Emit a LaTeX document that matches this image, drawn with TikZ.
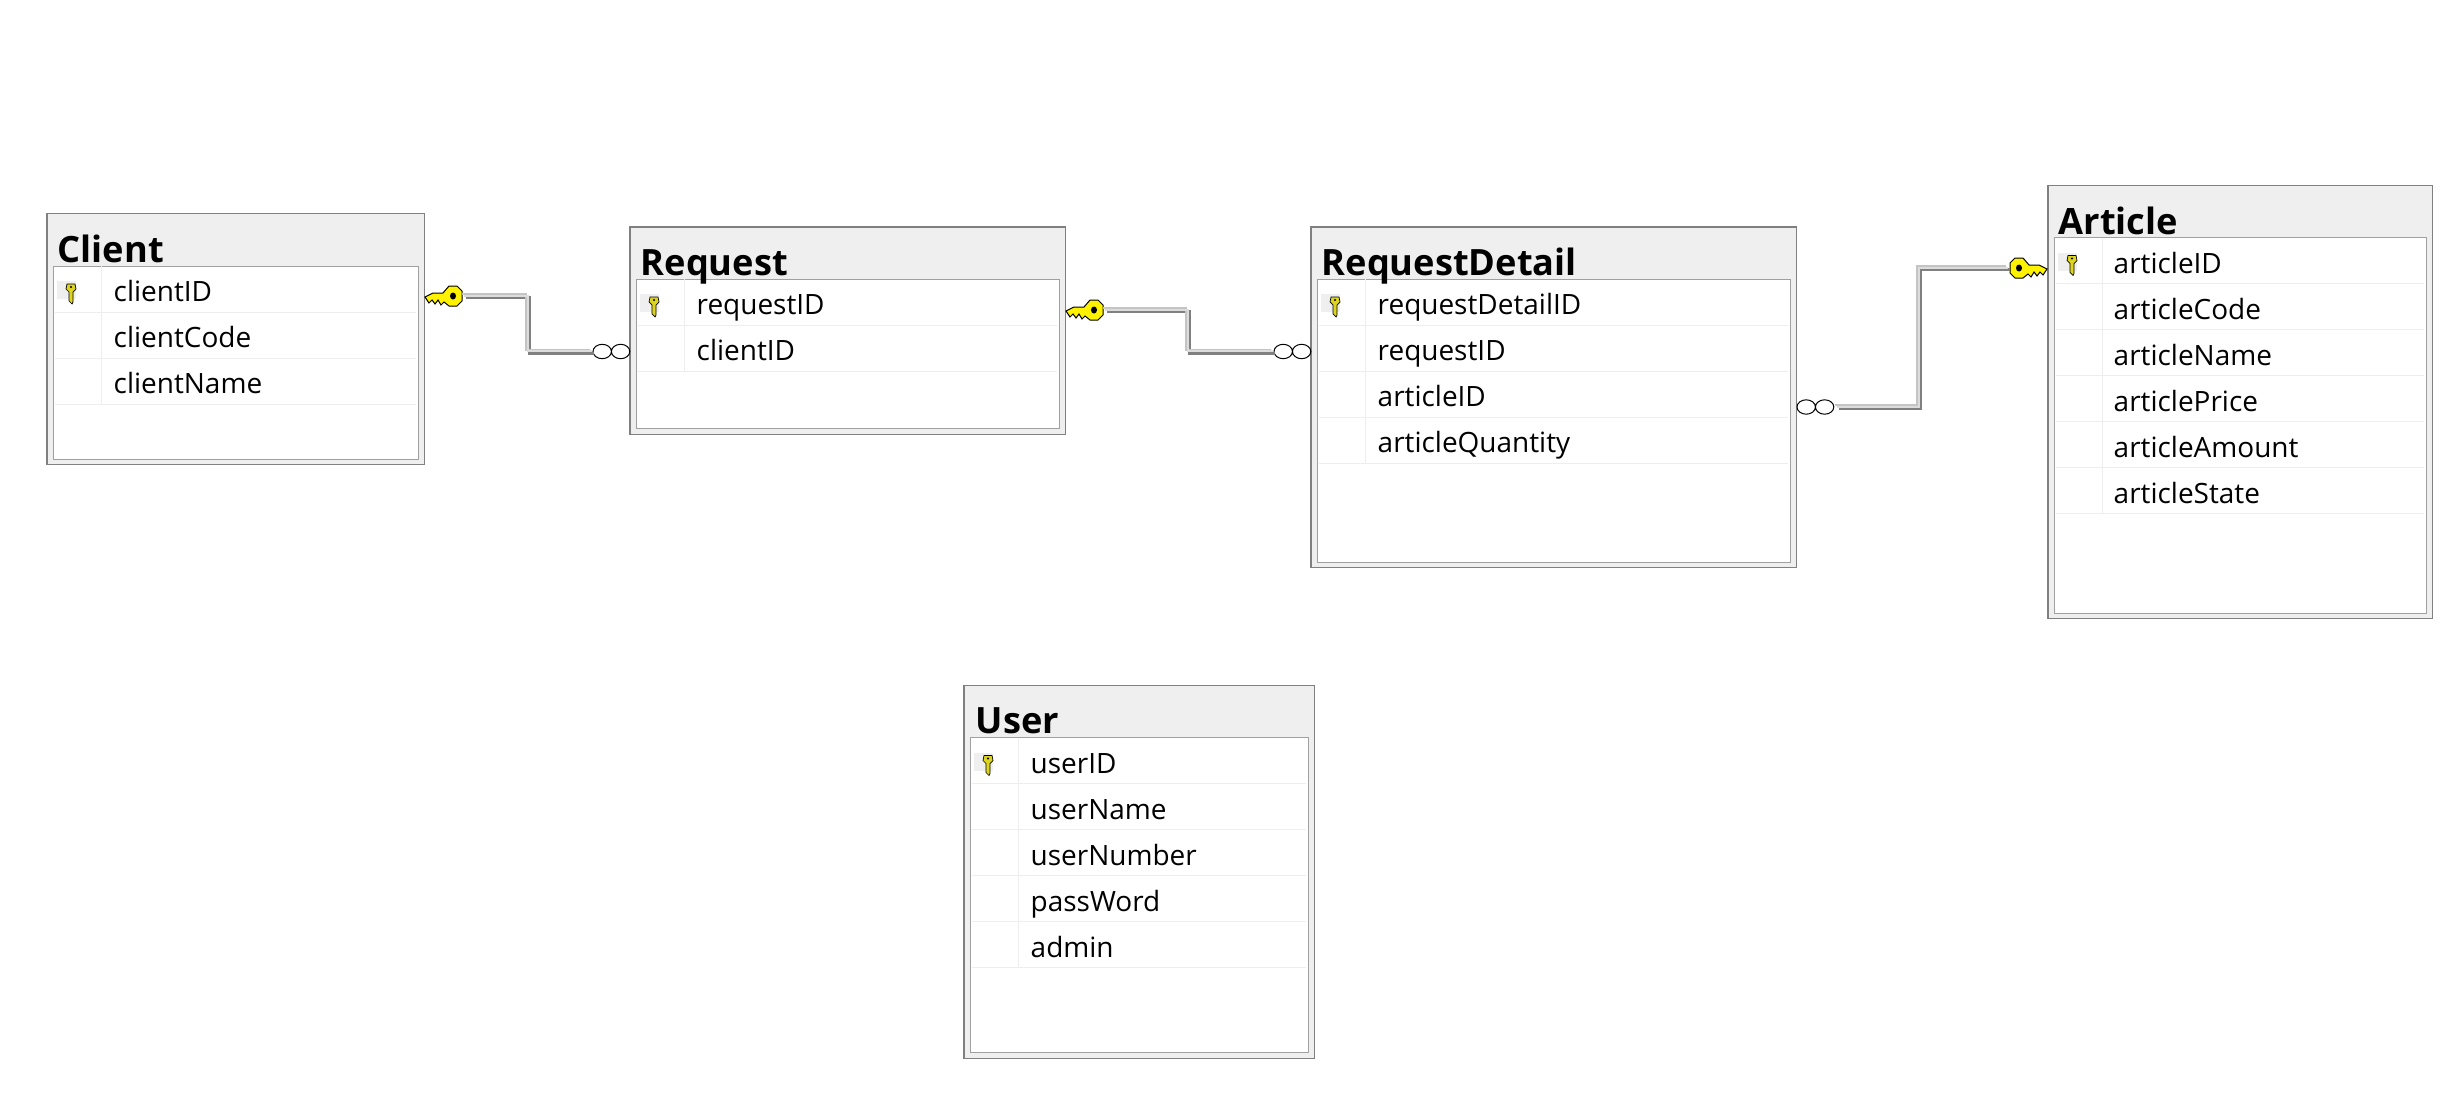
\documentclass[tikz,border=0pt]{standalone}
\usepackage{fontspec}
\usepackage{xcolor}
\setmainfont{Open Sans}
\definecolor{boxedge}{HTML}{808080}
\definecolor{bodyedge}{HTML}{A0A0A0}
\definecolor{headfill}{HTML}{EFEFEF}
\definecolor{rowedge}{HTML}{EEEEEE}
\definecolor{keybg}{HTML}{EFEFEF}
\definecolor{linelight}{HTML}{C4C4C4}
\definecolor{linemid}{HTML}{DCDCDC}
\definecolor{linedark}{HTML}{808080}
\tikzset{
  tablebox/.style={draw=boxedge,fill=headfill,line width=.012cm,outer sep=0pt,inner sep=0pt,anchor=north west},
  bodybox/.style={draw=bodyedge,fill=white,line width=.01cm,outer sep=0pt,inner sep=0pt,anchor=north west},
  tabletitle/.style={font=\fontsize{10.3pt}{11pt}\selectfont\bfseries,inner sep=0pt,anchor=base west},
  fieldname/.style={font=\fontsize{7.95pt}{9pt}\selectfont,inner sep=0pt,anchor=base west},
  rowline/.style={draw=rowedge,line width=.008cm},
  relline/.style={line join=miter},
  bigkey/.pic={
    \draw[fill=yellow,line width=.01cm] (-4,-10) -- (4,-10) -- (9,-5) -- (9,5) -- (4,10) -- (-4,10) -- (-9,6) -- (-12,9) -- (-15,4) -- (-18,8) -- (-21,4) -- (-24,7) -- (-28,1) -- (-20,-3) -- (-10,-3) -- cycle;
    \fill (0,0) ellipse[x radius=3,y radius=3.5];
    \coordinate (-tail) at (11,0);
  },
  smallkey/.pic={
    \draw[fill=yellow!85!black,line width=.007cm] (-2,2) -- (-2,11) -- (1,14) -- (2,12) -- (2,2) -- (5,-1) -- (4,-6) -- (-4,-6) -- (-5,-1) -- cycle;
    \fill (0,-3) circle[radius=1.2];
  },
  crowfoot/.pic={
    \draw[line width=.01cm] (9.2,0) ellipse[x radius=9.2,y radius=7.2] (27.6,0) ellipse[x radius=9.2,y radius=7.2];
    \coordinate (-west) at (-1,0);
    \coordinate (-east) at (40,0);
  }
}
\begin{document}
\begin{tikzpicture}[x=0.01cm,y=-0.01cm]
  \useasboundingbox (0,0) rectangle (2452,1118);
  % Client
  \node[tablebox,minimum width=3.77cm,minimum height=2.51cm] (client) at (47,213.5) {};
  \node[bodybox,minimum width=3.65cm,minimum height=1.93cm] (clientbody) at (53,266) {};
  \node[tabletitle] (clienttitle) at (57,262) {Client};
  \fill[keybg] ([shift={(4,15)}]clientbody.north west) rectangle ++(19,18);
  \pic at ([shift={(18,24)}]clientbody.north west) {smallkey};
  \draw[rowline] ([xshift=.48cm]clientbody.north west) -- ++(0,138);
  \foreach \t [count=\i, evaluate=\i as \yb using int(46*\i-11)] in {clientID,clientCode,clientName} {
    \node[fieldname] (client\i) at ([shift={(60,\yb)}]clientbody.north west) {\t};
    \draw[rowline] ([shift={(2,46*\i)}]clientbody.north west) -- ++(361,0);
  }
  % Request
  \node[tablebox,minimum width=4.35cm,minimum height=2.07cm] (request) at (630,227) {};
  \node[bodybox,minimum width=4.23cm,minimum height=1.49cm] (requestbody) at (636,279) {};
  \node[tabletitle] (requesttitle) at (640,275.5) {Request};
  \fill[keybg] ([shift={(4,15)}]requestbody.north west) rectangle ++(19,18);
  \pic at ([shift={(18,24)}]requestbody.north west) {smallkey};
  \draw[rowline] ([xshift=.48cm]requestbody.north west) -- ++(0,92);
  \foreach \t [count=\i, evaluate=\i as \yb using int(46*\i-11)] in {requestID,clientID} {
    \node[fieldname] (request\i) at ([shift={(60,\yb)}]requestbody.north west) {\t};
    \draw[rowline] ([shift={(2,46*\i)}]requestbody.north west) -- ++(419,0);
  }
  % RequestDetail
  \node[tablebox,minimum width=4.85cm,minimum height=3.40cm] (detail) at (1311,227) {};
  \node[bodybox,minimum width=4.73cm,minimum height=2.83cm] (detailbody) at (1317,279) {};
  \node[tabletitle] (detailtitle) at (1321,275.5) {RequestDetail};
  \fill[keybg] ([shift={(4,15)}]detailbody.north west) rectangle ++(19,18);
  \pic at ([shift={(18,24)}]detailbody.north west) {smallkey};
  \draw[rowline] ([xshift=.48cm]detailbody.north west) -- ++(0,184);
  \foreach \t [count=\i, evaluate=\i as \yb using int(46*\i-11)] in {requestDetailID,requestID,articleID,articleQuantity} {
    \node[fieldname] (detail\i) at ([shift={(60,\yb)}]detailbody.north west) {\t};
    \draw[rowline] ([shift={(2,46*\i)}]detailbody.north west) -- ++(469,0);
  }
  % Article
  \node[tablebox,minimum width=3.84cm,minimum height=4.33cm] (article) at (2048,185.5) {};
  \node[bodybox,minimum width=3.72cm,minimum height=3.76cm] (articlebody) at (2054,237.5) {};
  \node[tabletitle] (articletitle) at (2058,234) {Article};
  \fill[keybg] ([shift={(4,15)}]articlebody.north west) rectangle ++(19,18);
  \pic at ([shift={(18,24)}]articlebody.north west) {smallkey};
  \draw[rowline] ([xshift=.48cm]articlebody.north west) -- ++(0,276);
  \foreach \t [count=\i, evaluate=\i as \yb using int(46*\i-10)] in {articleID,articleCode,articleName,articlePrice,articleAmount,articleState} {
    \node[fieldname] (article\i) at ([shift={(59,\yb)}]articlebody.north west) {\t};
    \draw[rowline] ([shift={(2,46*\i)}]articlebody.north west) -- ++(368,0);
  }
  % User
  \node[tablebox,minimum width=3.50cm,minimum height=3.73cm] (user) at (964,685.5) {};
  \node[bodybox,minimum width=3.38cm,minimum height=3.15cm] (userbody) at (970,737.5) {};
  \node[tabletitle] (usertitle) at (975,733.5) {User};
  \fill[keybg] ([shift={(4,15)}]userbody.north west) rectangle ++(19,18);
  \pic at ([shift={(18,24)}]userbody.north west) {smallkey};
  \draw[rowline] ([xshift=.48cm]userbody.north west) -- ++(0,230);
  \foreach \t [count=\i, evaluate=\i as \yb using int(46*\i-10)] in {userID,userName,userNumber,passWord,admin} {
    \node[fieldname] (user\i) at ([shift={(60,\yb)}]userbody.north west) {\t};
    \draw[rowline] ([shift={(2,46*\i)}]userbody.north west) -- ++(334,0);
  }
  % relationships
  \pic (keyone) at (453,296) {bigkey};
  \pic (crowone) at (593,351.5) {crowfoot};
  \pic (keytwo) at (1094,310) {bigkey};
  \pic (crowtwo) at (1274,351.5) {crowfoot};
  \pic[xscale=-1] (keythree) at (2019,268) {bigkey};
  \pic (crowthree) at (1797,407) {crowfoot};
  \coordinate (bendone) at (528,0);
  \coordinate (bendtwo) at (1188,0);
  \coordinate (bendthree) at (1919,0);
  \foreach \off/\col/\wd in {1.5/linedark/.03cm,-2/linelight/.02cm,-.4/linemid/.018cm} {
    \draw[relline,draw=\col,line width=\wd,transform canvas={shift={(\off,\off)}}] (keyone-tail) -- (bendone |- keyone-tail) -- (bendone |- crowone-west) -- (crowone-west);
    \draw[relline,draw=\col,line width=\wd,transform canvas={shift={(\off,\off)}}] (keytwo-tail) -- (bendtwo |- keytwo-tail) -- (bendtwo |- crowtwo-west) -- (crowtwo-west);
    \draw[relline,draw=\col,line width=\wd,transform canvas={shift={(\off,\off)}}] (crowthree-east) -- (bendthree |- crowthree-east) -- (bendthree |- keythree-tail) -- (keythree-tail);
  }
\end{tikzpicture}
\end{document}
